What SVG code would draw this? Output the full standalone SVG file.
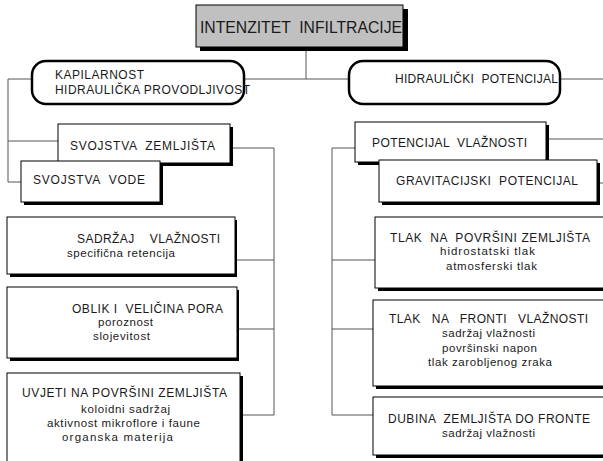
<svg xmlns="http://www.w3.org/2000/svg" width="603" height="461" viewBox="0 0 603 461">
<style>
  text { font-family: "Liberation Sans", Arial, sans-serif; fill: #1a1a1a; white-space: pre; }
  .t { font-size: 12px; }
  .s { font-size: 11.5px; }
  .box { fill: #fff; stroke: #000; stroke-width: 1; }
  .sh { fill: #000; }
  .rnd { fill: #fff; stroke: #000; stroke-width: 2.5; }
  .ln { fill: none; stroke: #555; stroke-width: 1; }
</style>
<rect width="603" height="461" fill="#fff"/>

<g id="connectors">
  <path class="ln" d="M306 51 V79 M244 79 H349 M560 79 H603"/>
  <path class="ln" d="M32 79 H8 V182 H21 M8 141 H58"/>
  <path class="ln" d="M233 148 H274 V415 M237 260 H274 M239 329 H274 M243 415 H274"/>
  <path class="ln" d="M549 139 H603 M600 183 H603"/>
  <path class="ln" d="M355 148 H332 V415 M332 260 H375 M332 329 H373 M332 415 H373"/>
</g>

<g id="title">
  <rect class="sh" x="200" y="9" width="208" height="42"/>
  <rect x="196" y="5" width="207" height="42" fill="#c0c0c0" stroke="#000" stroke-width="1"/>
  <text x="200" y="33" font-size="16" textLength="202" lengthAdjust="spacingAndGlyphs">INTENZITET  INFILTRACIJE</text>
</g>

<g id="kapilarnost">
  <rect class="rnd" x="32" y="61" width="212" height="43" rx="14" ry="14"/>
  <text class="t" x="55" y="79" textLength="89">KAPILARNOST</text>
  <text class="t" x="55" y="94" textLength="195">HIDRAULIČKA PROVODLJIVOST</text>
</g>

<g id="hidraulicki">
  <rect class="rnd" x="349" y="61" width="211" height="43" rx="14" ry="14"/>
  <text class="t" x="395" y="83" textLength="163">HIDRAULIČKI  POTENCIJAL</text>
</g>

<g id="svojstva-zemljista">
  <rect class="sh" x="61" y="127" width="172" height="39"/>
  <rect class="box" x="58" y="124" width="172" height="39"/>
  <text class="t" x="70" y="150" textLength="145">SVOJSTVA  ZEMLJIŠTA</text>
</g>

<g id="svojstva-vode">
  <rect class="sh" x="24" y="164" width="139" height="41"/>
  <rect class="box" x="21" y="161" width="139" height="41"/>
  <text class="t" x="33" y="184" textLength="112">SVOJSTVA  VODE</text>
</g>

<g id="sadrzaj">
  <rect class="sh" x="10" y="220" width="227" height="57"/>
  <rect class="box" x="7" y="217" width="228" height="57"/>
  <text class="t" x="77" y="243" textLength="143">SADRŽAJ    VLAŽNOSTI</text>
  <text class="s" x="67" y="257" textLength="108">specifična retencija</text>
</g>

<g id="oblik">
  <rect class="sh" x="10" y="290" width="229" height="71"/>
  <rect class="box" x="7" y="287" width="230" height="71"/>
  <text class="t" x="72" y="313" textLength="151">OBLIK I  VELIČINA PORA</text>
  <text class="s" x="98" y="326" textLength="55">poroznost</text>
  <text class="s" x="93" y="340" textLength="57">slojevitost</text>
</g>

<g id="uvjeti">
  <rect class="sh" x="10" y="376" width="233" height="90"/>
  <rect class="box" x="7" y="373" width="233" height="90"/>
  <text class="t" x="22" y="397" textLength="205">UVJETI NA POVRŠINI ZEMLJIŠTA</text>
  <text class="s" x="81" y="413" textLength="89">koloidni sadržaj</text>
  <text class="s" x="47" y="427" textLength="153">aktivnost mikroflore i faune</text>
  <text class="s" x="62" y="441" textLength="111">organska materija</text>
</g>

<g id="potencijal-vlaznosti">
  <rect class="sh" x="358" y="125" width="191" height="40"/>
  <rect class="box" x="355" y="122" width="191" height="40"/>
  <text class="t" x="372" y="147" textLength="155">POTENCIJAL  VLAŽNOSTI</text>
</g>

<g id="gravitacijski">
  <rect class="sh" x="382" y="163" width="218" height="42"/>
  <rect class="box" x="379" y="160" width="218" height="42"/>
  <text class="t" x="396" y="185" textLength="182">GRAVITACIJSKI  POTENCIJAL</text>
</g>

<g id="tlak-povrsina">
  <rect class="sh" x="378" y="220" width="240" height="71"/>
  <rect class="box" x="375" y="217" width="240" height="71"/>
  <text class="t" x="390" y="242" textLength="200">TLAK  NA  POVRŠINI ZEMLJIŠTA</text>
  <text class="s" x="440" y="255" textLength="95">hidrostatski tlak</text>
  <text class="s" x="446" y="270" textLength="91">atmosferski tlak</text>
</g>

<g id="tlak-fronta">
  <rect class="sh" x="376" y="303" width="240" height="86"/>
  <rect class="box" x="373" y="300" width="240" height="86"/>
  <text class="t" x="389" y="323" textLength="199">TLAK   NA   FRONTI   VLAŽNOSTI</text>
  <text class="s" x="442" y="337" textLength="93">sadržaj vlažnosti</text>
  <text class="s" x="442" y="352" textLength="95">površinski napon</text>
  <text class="s" x="428" y="366" textLength="124">tlak zarobljenog zraka</text>
</g>

<g id="dubina">
  <rect class="sh" x="376" y="400" width="240" height="58"/>
  <rect class="box" x="373" y="397" width="240" height="58"/>
  <text class="t" x="388" y="423" textLength="202">DUBINA  ZEMLJIŠTA DO FRONTE</text>
  <text class="s" x="442" y="437" textLength="93">sadržaj vlažnosti</text>
</g>
</svg>
